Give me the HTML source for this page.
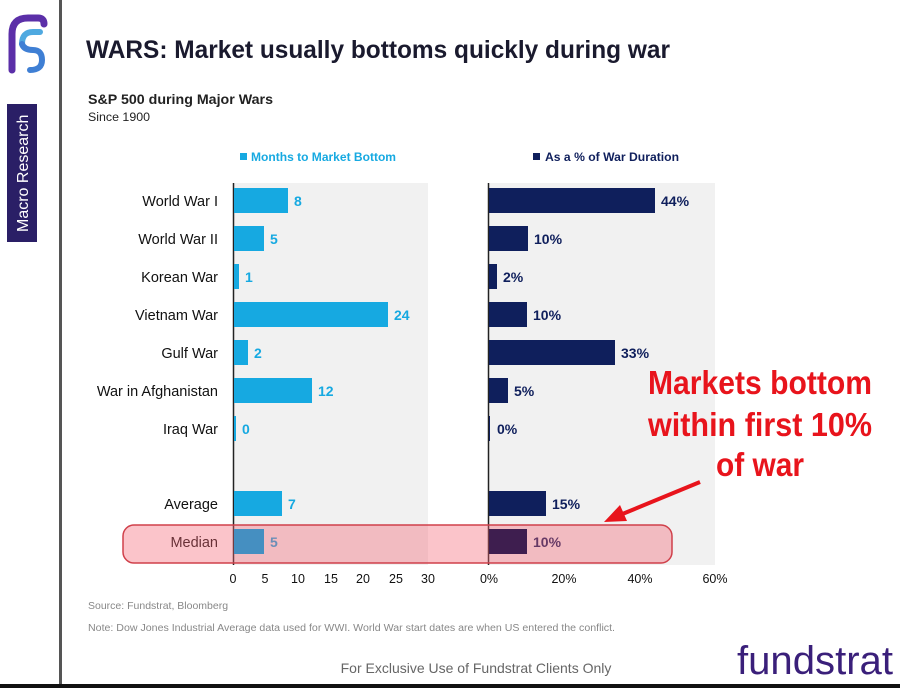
<!DOCTYPE html>
<html><head><meta charset="utf-8"><style>
body{margin:0;background:#fff;}
svg{display:block;font-family:"Liberation Sans",Arial,sans-serif;}
</style></head><body>
<svg width="900" height="688" viewBox="0 0 900 688" xmlns="http://www.w3.org/2000/svg">
<rect width="900" height="688" fill="#fff"/>
<!-- logo -->
<path d="M12 70 L12 34 Q12 18 28 18 L38 18 Q44 18 44 24" fill="none" stroke="#5b2fa8" stroke-width="7" stroke-linecap="round"/>
<path d="M22 44 Q22 32 33 32 L40 32" fill="none" stroke="#4fa9e0" stroke-width="6" stroke-linecap="round"/>
<path d="M22 44 Q24 50 33 50 Q42 50 42 60 Q42 70 30 70" fill="none" stroke="#3f7fd4" stroke-width="6" stroke-linecap="round"/>
<rect x="7" y="104" width="30" height="138" fill="#2a1f66"/>
<text transform="translate(28,232) rotate(-90)" font-size="16" fill="#fff">Macro Research</text>
<rect x="59" y="0" width="3" height="688" fill="#555"/>
<rect x="0" y="684" width="900" height="4" fill="#111"/>
<text x="86" y="58" font-size="25" font-weight="bold" fill="#1a1a2e" textLength="584" lengthAdjust="spacingAndGlyphs">WARS: Market usually bottoms quickly during war</text>
<text x="88" y="104" font-size="14" font-weight="bold" fill="#222" textLength="185" lengthAdjust="spacingAndGlyphs">S&amp;P 500 during Major Wars</text>
<text x="88" y="121" font-size="11.5" fill="#222" textLength="62" lengthAdjust="spacingAndGlyphs">Since 1900</text>
<!-- legends -->
<rect x="240" y="153" width="7" height="7" fill="#16a9e1"/>
<text x="251" y="161" font-size="12" font-weight="bold" fill="#16a9e1" textLength="145" lengthAdjust="spacingAndGlyphs">Months to Market Bottom</text>
<rect x="533" y="153" width="7" height="7" fill="#0f1f5c"/>
<text x="545" y="161" font-size="12" font-weight="bold" fill="#0f1f5c" textLength="134" lengthAdjust="spacingAndGlyphs">As a % of War Duration</text>
<!-- backgrounds -->
<rect x="233" y="183" width="195" height="382" fill="#f1f1f1"/>
<rect x="488" y="183" width="227" height="382" fill="#f1f1f1"/>
<line x1="233.5" y1="183" x2="233.5" y2="565" stroke="#222" stroke-width="1.5"/>
<line x1="488.5" y1="183" x2="488.5" y2="565" stroke="#222" stroke-width="1.5"/>
<g font-size="14.5" fill="#111" text-anchor="end">
<text x="218" y="206">World War I</text>
<text x="218" y="244">World War II</text>
<text x="218" y="282">Korean War</text>
<text x="218" y="320">Vietnam War</text>
<text x="218" y="358">Gulf War</text>
<text x="218" y="396">War in Afghanistan</text>
<text x="218" y="434">Iraq War</text>
<text x="218" y="509">Average</text>
<text x="218" y="547">Median</text>
</g>
<!-- left bars -->
<g fill="#16a9e1">
<rect x="234" y="188" width="54" height="25"/>
<rect x="234" y="226" width="30" height="25"/>
<rect x="234" y="264" width="5" height="25"/>
<rect x="234" y="302" width="154" height="25"/>
<rect x="234" y="340" width="14" height="25"/>
<rect x="234" y="378" width="78" height="25"/>
<rect x="234" y="416" width="2" height="25"/>
<rect x="234" y="491" width="48" height="25"/>
<rect x="234" y="529" width="30" height="25"/>
</g>
<g font-size="14" font-weight="bold" fill="#16a9e1">
<text x="294" y="206">8</text><text x="270" y="244">5</text><text x="245" y="282">1</text>
<text x="394" y="320">24</text><text x="254" y="358">2</text><text x="318" y="396">12</text>
<text x="242" y="434">0</text><text x="288" y="509">7</text><text x="270" y="547">5</text>
</g>
<!-- right bars -->
<g fill="#0f1f5c">
<rect x="489" y="188" width="166" height="25"/>
<rect x="489" y="226" width="39" height="25"/>
<rect x="489" y="264" width="8" height="25"/>
<rect x="489" y="302" width="38" height="25"/>
<rect x="489" y="340" width="126" height="25"/>
<rect x="489" y="378" width="19" height="25"/>
<rect x="489" y="416" width="1" height="25"/>
<rect x="489" y="491" width="57" height="25"/>
<rect x="489" y="529" width="38" height="25"/>
</g>
<g font-size="14" font-weight="bold" fill="#0f1f5c">
<text x="661" y="206">44%</text><text x="534" y="244">10%</text><text x="503" y="282">2%</text>
<text x="533" y="320">10%</text><text x="621" y="358">33%</text><text x="514" y="396">5%</text>
<text x="497" y="434">0%</text><text x="552" y="509">15%</text><text x="533" y="547">10%</text>
</g>
<!-- median highlight -->
<rect x="123" y="525" width="549" height="38" rx="11" fill="rgba(245,100,115,0.38)" stroke="#d0404a" stroke-width="1.5"/>
<rect x="234" y="529" width="30" height="25" fill="#3a8fc4" opacity="0.75"/>
<rect x="489" y="529" width="38" height="25" fill="#35184a" opacity="0.8"/>
<!-- axes ticks -->
<g font-size="12.5" fill="#111" text-anchor="middle">
<text x="233" y="583">0</text><text x="265" y="583">5</text><text x="298" y="583">10</text>
<text x="331" y="583">15</text><text x="363" y="583">20</text><text x="396" y="583">25</text><text x="428" y="583">30</text>
<text x="489" y="583">0%</text><text x="564" y="583">20%</text><text x="640" y="583">40%</text><text x="715" y="583">60%</text>
</g>
<text x="88" y="609" font-size="10.5" fill="#888">Source: Fundstrat, Bloomberg</text>
<text x="88" y="631" font-size="10" fill="#888" textLength="527" lengthAdjust="spacingAndGlyphs">Note: Dow Jones Industrial Average data used for WWI. World War start dates are when US entered the conflict.</text>
<text x="476" y="673" font-size="14" fill="#666" text-anchor="middle">For Exclusive Use of Fundstrat Clients Only</text>
<text x="737" y="674" font-size="40" fill="#3a1f7a" textLength="156" lengthAdjust="spacingAndGlyphs">fundstrat</text>
<!-- annotation -->
<g font-size="33" font-weight="bold" fill="#e8141c" lengthAdjust="spacingAndGlyphs">
<text x="648" y="394" textLength="224" lengthAdjust="spacingAndGlyphs">Markets bottom</text>
<text x="648" y="436" textLength="224" lengthAdjust="spacingAndGlyphs">within first 10%</text>
<text x="716" y="476" textLength="88" lengthAdjust="spacingAndGlyphs">of war</text>
</g>
<line x1="700" y1="482" x2="620" y2="515" stroke="#e8141c" stroke-width="4"/>
<polygon points="604,522 620,505 627,521" fill="#e8141c"/>
</svg>
</body></html>
